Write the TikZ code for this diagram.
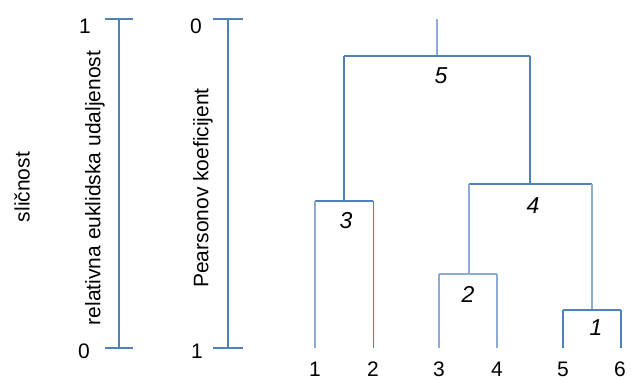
\documentclass[tikz,border=0pt]{standalone}
\usepackage{fontspec}
\setmainfont{Liberation Sans}
\usepackage{tikz}
\definecolor{barblue}{RGB}{79,129,189}
\definecolor{paleblue}{RGB}{140,172,212}
\pgfdeclarelayer{edgelayer}
\pgfdeclarelayer{nodelayer}
\pgfsetlayers{edgelayer,nodelayer,main}
\tikzstyle{none}=[inner sep=0pt]
\tikzstyle{num}=[inner sep=0pt, font=\fontsize{21}{21}\selectfont]
\tikzstyle{merge}=[inner sep=0pt, font=\fontsize{23}{23}\selectfont\itshape]
\tikzstyle{axislabel}=[inner sep=0pt, rotate=90, font=\fontsize{21}{21}\selectfont]
\tikzstyle{axis}=[draw=barblue, line width=2pt]
\tikzstyle{link}=[draw=barblue, line width=2pt]
\tikzstyle{pale}=[draw=paleblue, line width=2pt]
\tikzstyle{thin}=[draw=barblue, line width=1pt]

\begin{document}
\begin{tikzpicture}[x=1pt, y=-1pt]
	\useasboundingbox (0, 0) rectangle (633, 380);
	\begin{pgfonlayer}{nodelayer}
		\node [style=axislabel] (0) at (22, 187) {sličnost};
		\node [style=axislabel] (1) at (95, 188) {relativna euklidska udaljenost};
		\node [style=axislabel] (2) at (203, 188) {Pearsonov koeficijent};
		\node [style=num] (3) at (85, 26) {1};
		\node [style=num] (4) at (84, 351) {0};
		\node [style=num] (5) at (196, 26) {0};
		\node [style=num] (6) at (197, 351) {1};
		\node [style=none] (7) at (119, 19) {};
		\node [style=none] (8) at (119, 348) {};
		\node [style=none] (9) at (105, 19) {};
		\node [style=none] (10) at (133, 19) {};
		\node [style=none] (11) at (105, 348) {};
		\node [style=none] (12) at (133, 348) {};
		\node [style=none] (13) at (228, 19) {};
		\node [style=none] (14) at (228, 348) {};
		\node [style=none] (15) at (213, 19) {};
		\node [style=none] (16) at (243, 19) {};
		\node [style=none] (17) at (213, 348) {};
		\node [style=none] (18) at (243, 348) {};
		\node [style=none] (19) at (437, 19) {};
		\node [style=none] (20) at (437, 56) {};
		\node [style=none] (21) at (344, 56) {};
		\node [style=none] (22) at (530, 56) {};
		\node [style=none] (23) at (344, 201) {};
		\node [style=none] (24) at (315, 201) {};
		\node [style=none] (25) at (373, 201) {};
		\node [style=none] (26) at (315, 348) {};
		\node [style=none] (27) at (373, 348) {};
		\node [style=none] (28) at (530, 184) {};
		\node [style=none] (29) at (469, 184) {};
		\node [style=none] (30) at (592, 184) {};
		\node [style=none] (31) at (469, 274) {};
		\node [style=none] (32) at (439, 274) {};
		\node [style=none] (33) at (497, 274) {};
		\node [style=none] (34) at (439, 348) {};
		\node [style=none] (35) at (497, 348) {};
		\node [style=none] (36) at (592, 310) {};
		\node [style=none] (37) at (563, 310) {};
		\node [style=none] (38) at (621, 310) {};
		\node [style=none] (39) at (563, 348) {};
		\node [style=none] (40) at (621, 348) {};
		\node [style=merge] (41) at (441, 76) {5};
		\node [style=merge] (42) at (346, 221) {3};
		\node [style=merge] (43) at (533, 206) {4};
		\node [style=merge] (44) at (468, 294) {2};
		\node [style=merge] (45) at (596, 328) {1};
		\node [style=num] (46) at (315, 369) {1};
		\node [style=num] (47) at (373, 369) {2};
		\node [style=num] (48) at (439, 369) {3};
		\node [style=num] (49) at (497, 369) {4};
		\node [style=num] (50) at (563, 369) {5};
		\node [style=num] (51) at (620, 369) {6};
	\end{pgfonlayer}
	\begin{pgfonlayer}{edgelayer}
		\draw [style=axis] (7.center) to (8.center);
		\draw [style=axis] (9.center) to (10.center);
		\draw [style=axis] (11.center) to (12.center);
		\draw [style=axis] (13.center) to (14.center);
		\draw [style=axis] (15.center) to (16.center);
		\draw [style=axis] (17.center) to (18.center);
		\draw [style=pale] (19.center) to (20.center);
		\draw [style=link] (21.center) to (22.center);
		\draw [style=link] (21.center) to (23.center);
		\draw [style=link] (22.center) to (28.center);
		\draw [style=link] (24.center) to (25.center);
		\draw [style=pale] (24.center) to (26.center);
		\draw [style=thin] (25.center) to (27.center);
		\draw [style=link] (29.center) to (30.center);
		\draw [style=pale] (29.center) to (31.center);
		\draw [style=pale] (30.center) to (36.center);
		\draw [style=pale] (32.center) to (33.center);
		\draw [style=pale] (32.center) to (34.center);
		\draw [style=pale] (33.center) to (35.center);
		\draw [style=link] (37.center) to (38.center);
		\draw [style=link] (37.center) to (39.center);
		\draw [style=link] (38.center) to (40.center);
	\end{pgfonlayer}
\end{tikzpicture}
\end{document}
